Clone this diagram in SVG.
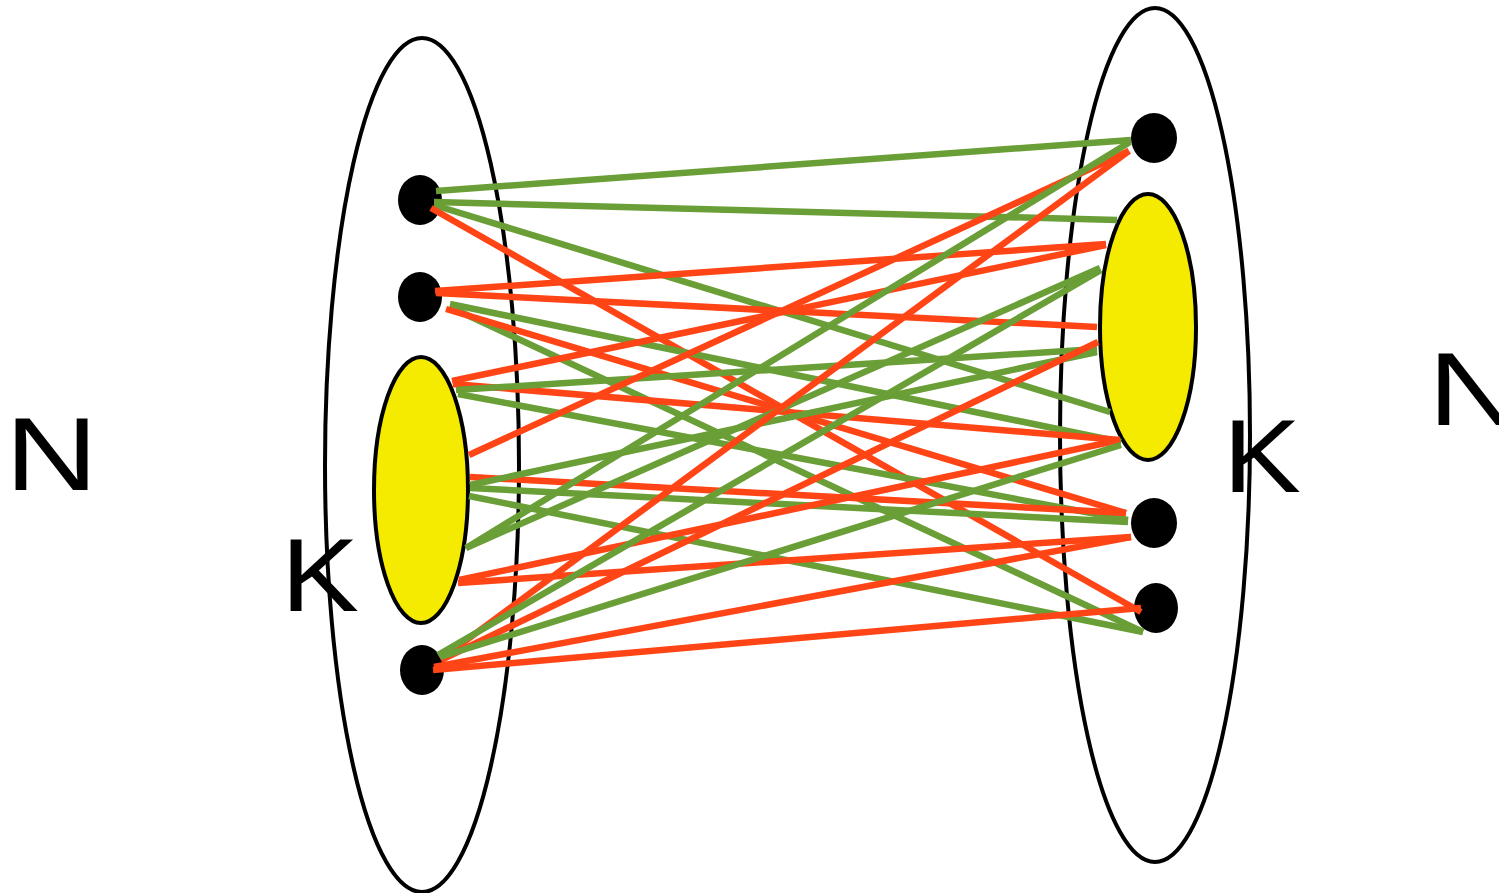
<svg xmlns="http://www.w3.org/2000/svg" width="1499" height="893" viewBox="0 0 1499 893">
<style>
.outer{fill:none;stroke:#000;stroke-width:4}
.dot{fill:#000}
.yel{fill:#F5EB00;stroke:#000;stroke-width:4}
.r{stroke:#FF4516;stroke-width:6.5;fill:none}
.g{stroke:#6A9E36;stroke-width:6.5;fill:none}
.lbl{font-family:"Liberation Sans",Arial,sans-serif;font-size:104px;fill:#000}
</style>
<rect width="1499" height="893" fill="#fff"/>
<g id="left-set"><ellipse class="outer" cx="422" cy="465" rx="97" ry="427"/></g>
<g id="right-set"><ellipse class="outer" cx="1155" cy="435" rx="95" ry="427"/></g>
<g id="L1"><ellipse class="dot" cx="420" cy="200" rx="22" ry="25"/></g>
<g id="L2"><ellipse class="dot" cx="420" cy="297" rx="22" ry="25"/></g>
<g id="LK"><ellipse class="yel" cx="421" cy="490" rx="47" ry="133"/></g>
<g id="L3"><ellipse class="dot" cx="422" cy="670" rx="22" ry="25"/></g>
<g id="R1"><ellipse class="dot" cx="1154" cy="138" rx="23" ry="25"/></g>
<g id="RK"><ellipse class="yel" cx="1148" cy="327" rx="48" ry="133"/></g>
<g id="R2"><ellipse class="dot" cx="1154" cy="523" rx="23" ry="25"/></g>
<g id="R3"><ellipse class="dot" cx="1156" cy="608" rx="22" ry="25"/></g>
<g id="connectors">
<line class="g" x1="436" y1="191" x2="1131" y2="140"/>
<line class="g" x1="434" y1="202" x2="1117" y2="220"/>
<line class="g" x1="434" y1="205" x2="1110" y2="412"/>
<line class="r" x1="431" y1="208" x2="1141" y2="612"/>
<line class="r" x1="435" y1="291" x2="1106" y2="244"/>
<line class="r" x1="436" y1="293" x2="1097" y2="327"/>
<line class="g" x1="450" y1="304" x2="1121" y2="442"/>
<line class="g" x1="450" y1="307" x2="1143" y2="632"/>
<line class="r" x1="446" y1="309" x2="1126" y2="513"/>
<line class="r" x1="452" y1="381" x2="1106" y2="245"/>
<line class="r" x1="453" y1="384" x2="1120" y2="440"/>
<line class="g" x1="456" y1="390" x2="1097" y2="349"/>
<line class="g" x1="458" y1="394" x2="1128" y2="520"/>
<line class="r" x1="469" y1="455" x2="1129" y2="151"/>
<line class="r" x1="470" y1="477" x2="1126" y2="513"/>
<line class="g" x1="470" y1="485" x2="1097" y2="352"/>
<line class="g" x1="470" y1="488" x2="1128" y2="522"/>
<line class="g" x1="469" y1="496" x2="1143" y2="632"/>
<line class="g" x1="466" y1="548" x2="1130" y2="142"/>
<line class="g" x1="466" y1="548" x2="1100" y2="268"/>
<line class="r" x1="458" y1="583" x2="1131" y2="537"/>
<line class="r" x1="459" y1="580" x2="1120" y2="440"/>
<line class="r" x1="441" y1="659" x2="1129" y2="151"/>
<line class="g" x1="438" y1="655" x2="1101" y2="270"/>
<line class="r" x1="441" y1="660" x2="1098" y2="342"/>
<line class="g" x1="440" y1="657" x2="1121" y2="445"/>
<line class="r" x1="434" y1="667" x2="1131" y2="537"/>
<line class="r" x1="433" y1="670" x2="1141" y2="608"/>
</g>
<g id="labels">
<text class="lbl" x="5" y="490" textLength="93" lengthAdjust="spacingAndGlyphs">N</text>
<text class="lbl" x="281" y="611" textLength="78" lengthAdjust="spacingAndGlyphs">K</text>
<text class="lbl" x="1223" y="492" textLength="78" lengthAdjust="spacingAndGlyphs">K</text>
<text class="lbl" x="1428" y="425" textLength="93" lengthAdjust="spacingAndGlyphs">N</text>
</g>
</svg>
